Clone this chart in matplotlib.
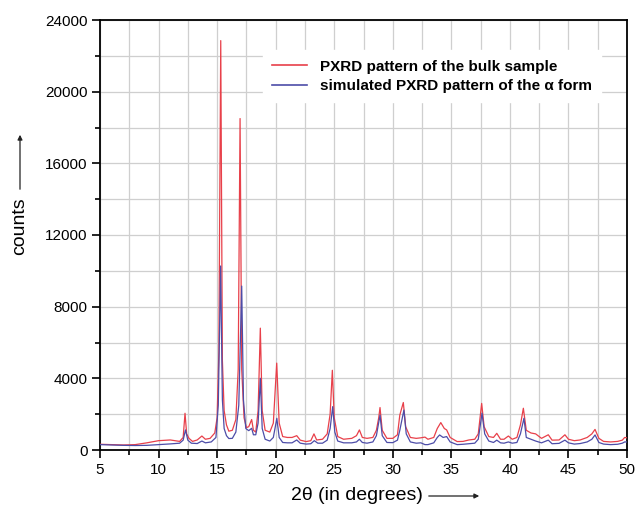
import matplotlib
matplotlib.use("Agg")
import matplotlib.pyplot as plt
from matplotlib.ticker import MultipleLocator

plt.rcParams['font.family'] = ['Liberation Sans', 'DejaVu Sans']

# PXRD of the bulk sample
bulk_2theta = [5.0, 6.0, 7.0, 8.0, 9.0, 10.0, 11.0, 11.8, 12.1, 12.26, 12.4, 12.6, 12.9,
               13.3, 13.7, 14.0, 14.4, 14.8, 15.0, 15.15, 15.31, 15.45, 15.6, 15.8, 16.0,
               16.3, 16.6, 16.8, 16.96, 17.1, 17.3, 17.5, 17.7, 17.95, 18.1, 18.3, 18.5,
               18.69, 18.85, 19.1, 19.5, 19.8, 20.09, 20.3, 20.6, 21.0, 21.4, 21.8, 22.1,
               22.6, 23.0, 23.27, 23.5, 24.0, 24.4, 24.65, 24.84, 25.0, 25.3, 25.8, 26.5,
               26.9, 27.15, 27.4, 27.8, 28.3, 28.6, 28.8, 28.91, 29.1, 29.5, 30.0, 30.4,
               30.6, 30.9, 31.1, 31.5, 32.0, 32.4, 32.75, 33.0, 33.5, 33.8, 34.1, 34.4,
               34.6, 34.9, 35.5, 36.0, 36.5, 37.0, 37.3, 37.59, 37.8, 38.2, 38.6, 38.88,
               39.2, 39.5, 39.87, 40.2, 40.6, 40.9, 41.15, 41.4, 41.8, 42.2, 42.7, 43.28,
               43.6, 44.2, 44.7, 45.0, 45.5, 46.0, 46.6, 47.0, 47.27, 47.6, 48.0, 48.6,
               49.2, 49.6, 49.8, 50.0]
bulk_counts = [320, 300, 280, 300, 400, 520, 560, 480, 700, 2050, 900, 650, 480,
               560, 780, 600, 650, 950, 1800, 5500, 22850, 5000, 2200, 1400, 1050,
               1100, 1700, 4500, 18500, 4500, 1800, 1250, 1300, 1700, 1100, 1000, 2200,
               6800, 2200, 1100, 1000, 1500, 4850, 1500, 750, 700, 700, 800, 550,
               470, 520, 900, 560, 600, 900, 2000, 4450, 1800, 750, 600, 650,
               800, 1120, 700, 650, 700, 1100, 1800, 2370, 1100, 650, 650, 850,
               1950, 2650, 1300, 700, 650, 680, 720, 600, 700, 1200, 1530, 1200,
               1120, 700, 470, 480, 560, 600, 900, 2600, 1300, 750, 700, 930,
               600, 600, 780, 600, 700, 1400, 2330, 1100, 950, 900, 650, 850,
               550, 560, 850, 600, 520, 560, 700, 900, 1150, 650, 480, 450,
               480, 550, 700, 680]

# simulated PXRD of the alpha form
sim_2theta = [5.0, 6.0, 7.0, 8.0, 9.0, 10.0, 11.0, 11.8, 12.1, 12.3, 12.5, 12.8, 13.3,
              13.7, 14.0, 14.5, 14.9, 15.1, 15.3, 15.45, 15.6, 15.8, 16.0, 16.3, 16.6,
              16.85, 17.1, 17.25, 17.45, 17.7, 17.95, 18.1, 18.3, 18.5, 18.69, 18.85,
              19.1, 19.5, 19.8, 20.1, 20.3, 20.6, 21.0, 21.4, 21.8, 22.1, 22.6, 23.0,
              23.3, 23.6, 24.0, 24.4, 24.65, 24.87, 25.05, 25.3, 25.8, 26.5, 26.9, 27.15,
              27.4, 27.8, 28.3, 28.6, 28.91, 29.1, 29.5, 30.0, 30.4, 30.6, 30.95, 31.15,
              31.5, 32.0, 32.4, 32.75, 33.0, 33.5, 33.8, 34.0, 34.3, 34.6, 34.9, 35.5,
              36.0, 36.5, 37.0, 37.3, 37.62, 37.85, 38.2, 38.6, 38.88, 39.2, 39.5, 39.87,
              40.2, 40.6, 40.9, 41.2, 41.4, 41.8, 42.2, 42.7, 43.28, 43.6, 44.2, 44.7,
              45.0, 45.5, 46.0, 46.6, 47.0, 47.27, 47.6, 48.0, 48.6, 49.2, 49.6, 49.8, 50.0]
sim_counts = [300, 280, 260, 250, 260, 300, 340, 380, 550, 1120, 550, 380, 360,
              500, 400, 450, 700, 2500, 10270, 2800, 1200, 800, 640, 650, 1000,
              2500, 9150, 2800, 1200, 1080, 1210, 850, 850, 1500, 4000, 1200,
              600, 500, 700, 1770, 700, 420, 400, 400, 560, 380, 330, 350,
              520, 380, 380, 550, 1200, 2420, 1000, 500, 400, 400, 450, 600,
              420, 380, 450, 800, 1950, 800, 420, 410, 550, 1100, 2230, 900,
              450, 380, 400, 300, 300, 400, 700, 840, 700, 750, 450, 300,
              320, 350, 380, 600, 2050, 900, 500, 420, 550, 400, 380, 450,
              380, 420, 900, 1770, 700, 600, 500, 400, 550, 350, 370, 550,
              400, 330, 360, 450, 600, 840, 420, 330, 300, 320, 380, 450, 450]

bulk_label = 'PXRD pattern of the bulk sample'
sim_label = 'simulated PXRD pattern of the \u03b1 form'

fig = plt.figure(figsize=(6.38, 5.12), dpi=100)
ax = fig.add_axes([100 / 638, 1 - 450 / 512, 527 / 638, 430 / 512])

ax.plot(bulk_2theta, bulk_counts, color='#e8404a', lw=0.9, label=bulk_label, zorder=3)
ax.plot(sim_2theta, sim_counts, color='#4d4da8', lw=0.9, label=sim_label, zorder=4)

ax.set_xlim(5, 50)
ax.set_ylim(0, 24000)
ax.xaxis.set_major_locator(MultipleLocator(5))
ax.xaxis.set_minor_locator(MultipleLocator(2.5))
ax.yaxis.set_major_locator(MultipleLocator(4000))
ax.yaxis.set_minor_locator(MultipleLocator(2000))
ax.grid(which='both', color='#cfcfcf', lw=0.9, zorder=0)
ax.set_axisbelow(True)
ax.tick_params(which='major', direction='out', length=6, width=1.2, labelsize=11, pad=3)
ax.tick_params(which='minor', direction='out', length=3.5, width=1.2)
for sp in ax.spines.values():
    sp.set_linewidth(1.3)

leg = ax.legend(loc='upper right', bbox_to_anchor=(0.966, 0.947), frameon=True,
                framealpha=1, facecolor='white', edgecolor='white', fancybox=False,
                prop={'weight': 'bold', 'size': 11}, handlelength=2.3,
                handletextpad=0.85, labelspacing=0.35, borderpad=0.6)
for h in leg.get_lines():
    h.set_linewidth(1.2)

# axis labels with arrows
fig.text(357 / 638, 1 - 495 / 512, '2\u03b8 (in degrees)', fontsize=14,
         ha='center', va='center')
fig.patches.append(matplotlib.patches.FancyArrowPatch(
    (426 / 638, 1 - 496 / 512), (482 / 638, 1 - 496 / 512),
    transform=fig.transFigure, arrowstyle='-|>', mutation_scale=7, lw=0.9, color='#222222'))
fig.text(20 / 638, 1 - 226 / 512, 'counts', fontsize=14, rotation=90,
         ha='center', va='center')
fig.patches.append(matplotlib.patches.FancyArrowPatch(
    (20 / 638, 1 - 192 / 512), (20 / 638, 1 - 132 / 512),
    transform=fig.transFigure, arrowstyle='-|>', mutation_scale=7, lw=0.9, color='#222222'))

fig.savefig('out.png', dpi=100)
